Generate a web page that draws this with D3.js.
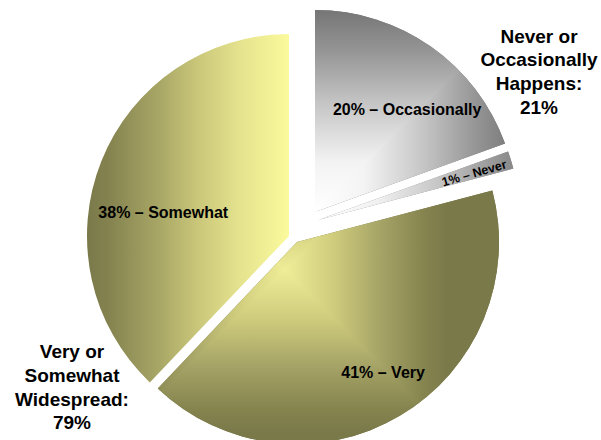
<!DOCTYPE html>
<html>
<head>
<meta charset="utf-8">
<script src="https://cdn.jsdelivr.net/npm/d3@7"></script>
<style>
  html, body { margin: 0; padding: 0; background: #ffffff; }
  svg { display: block; }
  text { font-family: "Liberation Sans", Arial, Helvetica, sans-serif; font-weight: bold; fill: #000; }
</style>
</head>
<body>
<script>
// ---------- data ----------
const categories = ["Occasionally", "Never", "Very", "Somewhat"];
const values = [19.5, 1.4, 41.2, 37.9];
const groupTitles = [["Never or", "Occasionally", "Happens:"], ["Very or", "Somewhat", "Widespread:"]];
const groupMembers = [[0, 1], [2, 3]];

// ---------- layout / style ----------
const W = 601, H = 440;
const R = 202;
const C = [295, 237];
const explode = [[20, -25], [23, -17], [2, 5], [-6, -1]];          // slice offsets (px)
const labelAngle = [41.9, 73.2, 146.5, 280.8];                      // degrees clockwise from north
const labelDist = [138, 163, 156, 128];                              // px from slice apex
const labelSize = [16, 12.5, 16, 16];
const labelRotate = [0, -16, 0, 0];
const groupPos = [[539, 42.5], [72, 358]];
const groupLineH = 23.8;
const groupFont = 19;

const greyStops = [[0, "#ffffff"], [0.25, "#f3f3f3"], [0.55, "#c4c4c4"], [0.8, "#969696"], [1, "#777777"]];
const neverStops = [[0, "#ffffff"], [0.3, "#f0f0f0"], [0.6, "#c6c6c6"], [1, "#858585"]];
const veryStops = [[0, "#efed97"], [0.3, "#cfcc7d"], [0.6, "#a4a265"], [0.85, "#86854f"], [1, "#7a794a"]];
const somewhatStops = [[0, "#7a794a"], [0.1, "#83824f"], [0.36, "#a9a766"], [0.55, "#cac77a"], [0.75, "#e4e28d"], [1, "#fbfa9c"]];

const svg = d3.select("body").append("svg").attr("width", W).attr("height", H);
const defs = svg.append("defs");

const pieData = d3.pie().sort(null).value(d => d)(values);
const arc = d3.arc().innerRadius(0).outerRadius(R);

function addLinear(id, x1, y1, x2, y2, stops) {
  const lg = defs.append("linearGradient").attr("id", id)
    .attr("gradientUnits", "userSpaceOnUse")
    .attr("x1", x1).attr("y1", y1).attr("x2", x2).attr("y2", y2);
  stops.forEach(s => lg.append("stop").attr("offset", s[0]).attr("stop-color", s[1]));
}

// rectangular ("path") gradient made of 4 triangles with linear gradients
function rectFill(g, id, cx, cy, size, stops) {
  const dirs = [[1, 0], [-1, 0], [0, 1], [0, -1]];
  const L = 1200, e = 2;
  g.append("rect").attr("x", cx - L).attr("y", cy - L).attr("width", 2 * L).attr("height", 2 * L)
    .attr("fill", stops[stops.length - 1][1]);
  dirs.forEach(([ux, uy], k) => {
    const gid = id + "-" + k;
    addLinear(gid, cx, cy, cx + ux * size, cy + uy * size, stops);
    let pts;
    if (ux !== 0) pts = [[cx - ux * e, cy], [cx + ux * L, cy - L - e], [cx + ux * L, cy + L + e]];
    else pts = [[cx, cy - uy * e], [cx - L - e, cy + uy * L], [cx + L + e, cy + uy * L]];
    g.append("path").attr("d", "M" + pts.map(p => p.join(",")).join("L") + "Z")
      .attr("fill", `url(#${gid})`);
  });
}

const fills = [
  g => rectFill(g, "gOcc", 0, 0, 200, greyStops),
  g => rectFill(g, "gNev", 0, 0, 200, neverStops),
  g => rectFill(g, "gVery", -12, 28, 162, veryStops),
  g => { addLinear("gSom", -R, 0, 0, 0, somewhatStops);
         g.append("rect").attr("x", -R - 5).attr("y", -R - 5).attr("width", 2 * R + 10).attr("height", 2 * R + 10)
          .attr("fill", "url(#gSom)"); }
];

pieData.forEach((d, i) => {
  const sg = svg.append("g")
    .attr("transform", `translate(${C[0] + explode[i][0]},${C[1] + explode[i][1]})`);
  const cid = "clip" + i;
  defs.append("clipPath").attr("id", cid).append("path").attr("d", arc(d));
  const inner = sg.append("g").attr("clip-path", `url(#${cid})`);
  fills[i](inner);

  const a = labelAngle[i] * Math.PI / 180;
  const lx = Math.sin(a) * labelDist[i], ly = -Math.cos(a) * labelDist[i];
  sg.append("text")
    .attr("transform", `translate(${lx},${ly}) rotate(${labelRotate[i]})`)
    .attr("text-anchor", "middle")
    .attr("dy", "0.36em")
    .style("font-size", labelSize[i] + "px")
    .text(`${Math.round(d.data)}% \u2013 ${categories[i]}`);
});

groupTitles.forEach((lines, gi) => {
  const total = d3.sum(groupMembers[gi], k => values[k]);
  const all = lines.concat([`${Math.round(total)}%`]);
  const t = svg.append("text")
    .attr("text-anchor", "middle")
    .style("font-size", groupFont + "px");
  all.forEach((ln, j) => {
    t.append("tspan").attr("x", groupPos[gi][0]).attr("y", groupPos[gi][1] + j * groupLineH).text(ln);
  });
});
</script>
</body>
</html>
